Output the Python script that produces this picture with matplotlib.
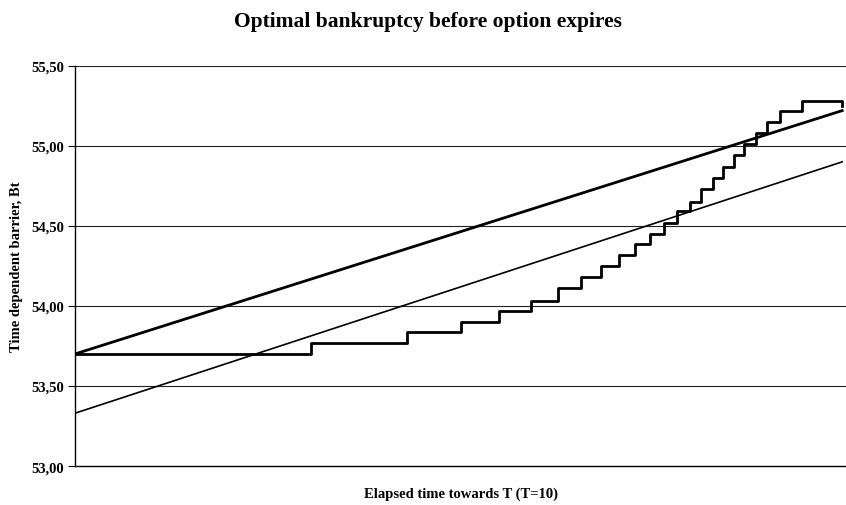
import matplotlib.pyplot as plt

plt.rcParams['font.family'] = ['Liberation Serif', 'DejaVu Serif']

# time axis runs from 0 to T=10
line_t = [0, 10]
upper_barrier = [53.70, 55.22]
lower_barrier = [53.33, 54.90]

# optimal (discrete) barrier, step changes
step_t = [0, 3.08, 4.33, 5.03, 5.53, 5.95, 6.30, 6.60, 6.86, 7.09, 7.30, 7.50,
          7.68, 7.85, 8.01, 8.16, 8.31, 8.45, 8.59, 8.72, 8.88, 9.02, 9.19,
          9.47, 10]
step_b = [53.70, 53.77, 53.84, 53.90, 53.97, 54.03, 54.11, 54.18, 54.25, 54.32,
          54.39, 54.45, 54.52, 54.59, 54.65, 54.73, 54.80, 54.87, 54.94, 55.01,
          55.08, 55.15, 55.22, 55.28, 55.25]

y_ticks = [53.00, 53.50, 54.00, 54.50, 55.00, 55.50]

fig = plt.figure(figsize=(8.46, 5.06), dpi=100)
ax = fig.add_axes([0.0887, 0.077, 0.9113, 0.791])

ax.plot(line_t, upper_barrier, color='black', lw=2.0)
ax.plot(line_t, lower_barrier, color='black', lw=1.2)
ax.plot(step_t, step_b, color='black', lw=2.0, drawstyle='steps-post')

ax.set_xlim(0, 10.05)
ax.set_ylim(53.0, 55.5)
ax.set_yticks(y_ticks)
ax.set_yticklabels([f'{v:.2f}'.replace('.', ',') for v in y_ticks],
                   fontsize=10.5, fontweight='bold')
ax.set_xticks([])
ax.tick_params(axis='y', length=5, width=0.8, direction='out', pad=3)

# horizontal grid lines
for v in y_ticks[1:]:
    ax.axhline(v, color='#222222', lw=0.8, zorder=0)

ax.spines['top'].set_visible(False)
ax.spines['right'].set_visible(False)
ax.spines['left'].set_linewidth(1.0)
ax.spines['bottom'].set_linewidth(1.0)

ax.set_ylabel('Time dependent barrier, Bt', fontsize=10.5, fontweight='bold', labelpad=6)
ax.set_xlabel('Elapsed time towards T (T=10)', fontsize=10.5, fontweight='bold', labelpad=15)
fig.suptitle('Optimal bankruptcy before option expires', fontsize=15.5, fontweight='bold',
             x=0.506, y=0.977)

fig.savefig('out.png', dpi=100)
